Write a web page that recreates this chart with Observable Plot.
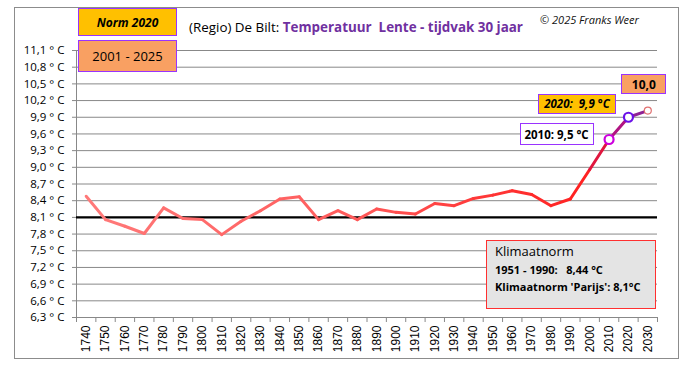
<!DOCTYPE html>
<html><head><meta charset="utf-8">
<script src="https://cdn.jsdelivr.net/npm/d3@7"></script>
<script src="https://cdn.jsdelivr.net/npm/@observablehq/plot@0.6"></script>
<style>
body{margin:0;background:#fff;font-family:"Open Sans",sans-serif;}
#wrap{position:relative;width:687px;height:367px;overflow:hidden;}
.abs{position:absolute;box-sizing:border-box;white-space:nowrap;}
#frame{left:14px;top:7px;width:665px;height:352px;border:1.5px solid #8c8c8c;}
.lbox{border:1.5px solid #9933FF;display:flex;align-items:center;justify-content:center;}
</style></head>
<body><div id="wrap"></div>
<script>
const years = [1740,1750,1760,1770,1780,1790,1800,1810,1820,1830,1840,1850,1860,1870,1880,1890,1900,1910,1920,1930,1940,1950,1960,1970,1980,1990,2000,2010,2020,2030];
const temps = [8.48,8.06,7.94,7.81,8.27,8.08,8.06,7.79,8.03,8.22,8.43,8.47,8.06,8.22,8.06,8.25,8.19,8.16,8.35,8.31,8.44,8.50,8.58,8.51,8.31,8.43,8.96,9.50,9.90,10.02];
const yTicks = [6.3,6.6,6.9,7.2,7.5,7.8,8.1,8.4,8.7,9.0,9.3,9.6,9.9,10.2,10.5,10.8,11.1];
const normParijs = 8.1;
const norm5190 = 8.44;
const labelYears = [2010, 2020, 2030];
const labelTexts = ["2010: 9,5 °C", "2020:&nbsp; 9,9 °C", "10,0"];

const data = years.map((y,i)=>({year:y, t:temps[i]}));
const segs = data.slice(1).map((d,i)=>({x1:data[i].year,y1:data[i].t,x2:d.year,y2:d.t,mid:(data[i].year+d.year)/2}));
const segColor = d3.scaleLinear()
  .domain([1740,1880,1960,1995,2005,2015,2025])
  .range(["#FF7a7a","#FF5a5a","#FF3030","#FF2222","#E0163e","#B01482","#8E2294"]);
const boundaries = years.map(y=>y-5).concat([years[years.length-1]+5]);
const fmtY = d => d.toFixed(1).replace(".", ",") + " ° C";

const chart = Plot.plot({
  width: 687, height: 367,
  marginLeft: 76, marginRight: 30, marginTop: 50, marginBottom: 50,
  x: {type:"linear", domain:[boundaries[0], boundaries[boundaries.length-1]]},
  y: {domain:[yTicks[0], yTicks[yTicks.length-1]]},
  color: {type:"identity"},
  style: {fontFamily:"'Open Sans',sans-serif", background:"transparent", color:"#000"},
  marks: [
    Plot.ruleY(yTicks, {stroke:"#888", strokeWidth:1}),
    Plot.ruleX([boundaries[0]], {stroke:"#888", strokeWidth:1}),
    Plot.axisY({ticks:yTicks, tickFormat:fmtY, tickSize:4, tickPadding:8, fontSize:11.5, stroke:"#888"}),
    Plot.axisX({ticks:boundaries, tickSize:5, tickFormat:()=>"", stroke:"#888"}),
    Plot.axisX({ticks:years, tickSize:0, tickPadding:8, tickRotate:-90, tickFormat:d=>String(d), fontSize:12, fontFamily:"'Liberation Sans',Arial,sans-serif"}),
    Plot.ruleY([normParijs], {stroke:"#000", strokeWidth:2.2}),
    Plot.link(segs, {x1:"x1", y1:"y1", x2:"x2", y2:"y2", stroke:d=>segColor(d.mid), strokeWidth:3, strokeLinecap:"round"}),
    Plot.dot(data.filter(d=>d.year===labelYears[0]), {x:"year", y:"t", r:4.5, fill:"#fff", stroke:"#CC00DD", strokeWidth:2.2}),
    Plot.dot(data.filter(d=>d.year===labelYears[1]), {x:"year", y:"t", r:4.5, fill:"#fff", stroke:"#6A10E8", strokeWidth:2.2}),
    Plot.dot(data.filter(d=>d.year===labelYears[2]), {x:"year", y:"t", r:3.5, fill:"#fff", stroke:"#E07070", strokeWidth:1.2})
  ]
});
const wrap = document.getElementById("wrap");
wrap.appendChild(chart);
const sx = chart.scale("x"), sy = chart.scale("y");

function box(html, left, top, w, h, css){
  const d = document.createElement("div");
  d.className = "abs";
  d.style.cssText = `left:${left}px;top:${top}px;width:${w}px;height:${h}px;` + (css||"");
  d.innerHTML = html;
  wrap.appendChild(d);
  return d;
}
const fr = document.createElement("div"); fr.id="frame"; fr.className="abs"; wrap.appendChild(fr);

const b1 = box("Norm 2020", 78, 8, 99, 28, "background:#FFC000;font-weight:bold;font-style:italic;font-size:12px;");
b1.classList.add("lbox");
const b2 = box("2001 - 2025", 78, 40, 99, 32, "background:#F9A062;font-size:13px;");
b2.classList.add("lbox");

box(`(Regio) De Bilt: <span style="color:#7030A0;font-weight:bold">Temperatuur&nbsp; Lente - tijdvak 30 jaar</span>`, 189, 18, 345, 20, "font-size:13.4px;color:#000;");
box("© 2025 Franks Weer", 540, 12, 130, 16, "font-size:11px;font-style:italic;color:#111;");

const pt = y => { const d = data.find(e=>e.year===y); return [sx.apply(d.year), sy.apply(d.t)]; };
let [px, py] = pt(labelYears[0]);
box(labelTexts[0], px-89, py-16, 74, 22, "background:#fff;border:1.5px solid #9933FF;font-weight:bold;font-size:11.5px;display:flex;align-items:center;justify-content:center;");
[px, py] = pt(labelYears[1]);
box(labelTexts[1], px-90, py-23, 78, 20, "background:#FFC000;border:1.5px solid #9933FF;font-weight:bold;font-style:italic;font-size:11.5px;display:flex;align-items:center;justify-content:center;");
[px, py] = pt(labelYears[2]);
box(labelTexts[2], px-26, py-36, 45, 20, "background:#F9A062;border:1.5px solid #9933FF;font-weight:bold;font-size:12px;display:flex;align-items:center;justify-content:center;");

box(`<div style="font-size:13px;margin-bottom:3px">Klimaatnorm</div>
<div style="font-size:11px;font-weight:bold;margin-bottom:2px">1951 - 1990:&nbsp;&nbsp; ${norm5190.toFixed(2).replace(".", ",")} °C</div>
<div style="font-size:11px;font-weight:bold">Klimaatnorm 'Parijs': ${normParijs.toFixed(1).replace(".", ",")}°C</div>`,
 486, 240, 170, 69, "background:#E4E4E4;border:1.5px solid #FF3030;padding:3px 0 0 8px;line-height:15px;");
</script></body></html>
